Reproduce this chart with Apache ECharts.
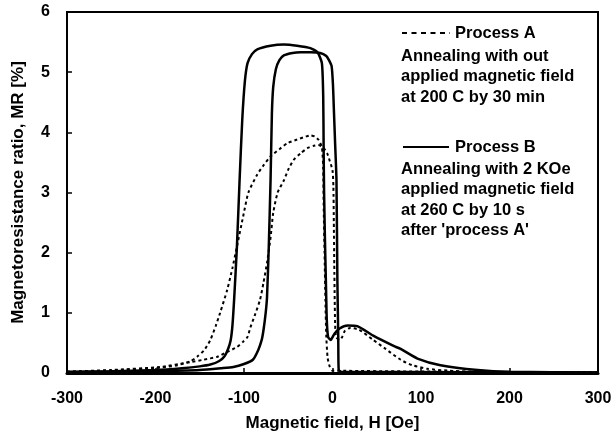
<!DOCTYPE html>
<html>
<head>
<meta charset="utf-8">
<script src="https://cdn.jsdelivr.net/npm/echarts@6/dist/echarts.min.js"></script>
<style>html,body{margin:0;padding:0;background:#fff}#c{width:616px;height:441px}</style>
</head>
<body>
<div id="c"></div>
<script>
// X ticks and Y ticks
const xTicks = [-300, -200, -100, 0, 100, 200, 300];
const yTicks = [0, 1, 2, 3, 4, 5, 6];

// Process A (dotted) - trace 1 (peak ~3.95)
const processA1 = [[-300,0.02],[-250,0.04],[-200,0.08],[-175,0.13],[-160,0.2],[-153,0.27],[-145,0.38],[-138,0.55],[-132,0.78],[-127,1.0],[-119,1.38],[-113,1.75],[-108,2.1],[-101,2.6],[-95,3.0],[-85,3.3],[-78,3.45],[-70,3.6],[-60,3.72],[-51,3.82],[-40,3.88],[-30,3.93],[-25,3.95],[-20,3.93],[-16,3.88],[-12,3.75],[-10.5,3.4],[-10,2.8],[-9,2.0],[-8,1.2],[-7,0.6],[-5.5,0.25],[-3,0.1],[0,0.04],[300,0.01]];
// Process A (dotted) - trace 2 (peak ~3.79)
const processA2 = [[-300,0.02],[-250,0.05],[-195,0.1],[-161,0.18],[-146,0.22],[-130,0.27],[-119,0.35],[-108,0.43],[-101,0.52],[-96,0.6],[-93,0.75],[-88,0.95],[-82,1.21],[-78,1.5],[-74,1.83],[-70,2.25],[-67,2.66],[-62,3.0],[-55,3.2],[-50,3.38],[-44,3.54],[-36,3.65],[-28,3.74],[-20,3.78],[-16,3.79],[-10,3.74],[-6,3.65],[-3,3.52],[0,3.37],[1,3.1],[1.5,2.5],[2,1.8],[2.5,1.2],[3,0.8],[4,0.6],[8,0.55],[11,0.6],[14,0.7],[20,0.75],[30,0.72],[46,0.55],[60,0.4],[77,0.22],[90,0.13],[107,0.07],[130,0.04],[160,0.02],[300,0.01]];
// Process B (solid) - trace 1 (peak ~5.45)
const processB1 = [[-300,0.02],[-250,0.03],[-200,0.05],[-170,0.08],[-150,0.11],[-138,0.14],[-128,0.2],[-122,0.28],[-118,0.4],[-115,0.55],[-113,0.8],[-111,1.26],[-108,2.1],[-105,3.2],[-102,4.2],[-99,4.85],[-96,5.15],[-91,5.3],[-85,5.38],[-70,5.44],[-55,5.46],[-40,5.44],[-25,5.4],[-17,5.33],[-12,5.15],[-10.5,4.6],[-10,3.7],[-9.5,3.0],[-8.5,2.2],[-7.5,1.55],[-6.5,0.9],[-5,0.6],[-2,0.55],[2,0.65],[8,0.74],[17,0.79],[28,0.78],[46,0.62],[69,0.45],[77,0.4],[96,0.24],[122,0.13],[164,0.05],[200,0.02],[300,0.01]];
// Process B (solid) - trace 2 (peak ~5.3)
const processB2 = [[-300,0.01],[-250,0.02],[-200,0.03],[-150,0.05],[-125,0.08],[-112,0.1],[-100,0.15],[-90,0.22],[-84,0.38],[-80,0.55],[-78,0.71],[-75.5,1.0],[-74,1.26],[-72,2.1],[-70,3.2],[-68.5,4.3],[-67,4.75],[-64,5.05],[-60,5.2],[-55,5.28],[-45,5.32],[-36,5.33],[-25,5.33],[-14,5.32],[-7,5.27],[-4,5.2],[-1,5.1],[0.5,4.8],[1.5,4.4],[3,3.8],[4.5,3.2],[5.5,1.55],[6.5,0.6],[7,0.05],[10,0.02],[300,0.01]];

const legendTextA = ['Annealing with out', 'applied magnetic field', 'at 200 C by 30 min'];
const legendTextB = ['Annealing with 2 KOe', 'applied magnetic field', 'at 260 C by 10 s', "after 'process A'"];

const FONT = '"Liberation Sans", Arial, sans-serif';
const LFONT = 'bold 16.5px ' + FONT;
const chart = echarts.init(document.getElementById('c'), null, {renderer: 'canvas'});

const graphics = [];
graphics.push({type: 'line', shape: {x1: 402, y1: 33, x2: 450, y2: 33}, style: {stroke: '#000', lineWidth: 2, lineDash: [5, 4.5]}});
graphics.push({type: 'text', x: 455, y: 33, style: {text: 'Process A', fill: '#000', font: LFONT, textVerticalAlign: 'middle'}});
legendTextA.forEach((s, i) => graphics.push({type: 'text', x: 401, y: 56 + i * 20.5, style: {text: s, fill: '#000', font: LFONT, textVerticalAlign: 'middle'}}));
graphics.push({type: 'line', shape: {x1: 403, y1: 147, x2: 449, y2: 147}, style: {stroke: '#000', lineWidth: 2}});
graphics.push({type: 'text', x: 455, y: 147, style: {text: 'Process B', fill: '#000', font: LFONT, textVerticalAlign: 'middle'}});
legendTextB.forEach((s, i) => graphics.push({type: 'text', x: 401, y: 169 + i * 20.5, style: {text: s, fill: '#000', font: LFONT, textVerticalAlign: 'middle'}}));

const lineSeries = (name, data, dotted) => ({
  name, type: 'line', data, showSymbol: false, smooth: 0.2, animation: false,
  lineStyle: {color: '#000', width: dotted ? 2 : 2.5, type: dotted ? [3, 3] : 'solid'}
});

chart.setOption({
  animation: false,
  backgroundColor: '#fff',
  grid: {left: 67, right: 18, top: 12, bottom: 68, show: true, borderColor: '#000', borderWidth: 2},
  xAxis: {
    type: 'value', min: xTicks[0], max: xTicks[xTicks.length - 1], interval: 100,
    name: 'Magnetic field, H [Oe]', nameLocation: 'middle', nameGap: 42,
    nameTextStyle: {fontFamily: FONT, fontWeight: 'bold', fontSize: 17, color: '#000'},
    axisLine: {onZero: false, lineStyle: {color: '#000', width: 3}},
    axisTick: {inside: true, length: 5, lineStyle: {color: '#000', width: 1.5}},
    axisLabel: {fontFamily: FONT, fontWeight: 'bold', fontSize: 16, color: '#000', margin: 18},
    splitLine: {show: false}
  },
  yAxis: {
    type: 'value', min: yTicks[0], max: yTicks[yTicks.length - 1], interval: 1,
    name: 'Magnetoresistance ratio, MR [%]', nameLocation: 'middle', nameGap: 40, nameRotate: 90,
    nameTextStyle: {fontFamily: FONT, fontWeight: 'bold', fontSize: 17, color: '#000'},
    axisLine: {onZero: false, lineStyle: {color: '#000', width: 2}},
    axisTick: {inside: true, length: 5, lineStyle: {color: '#000', width: 1.5}},
    axisLabel: {fontFamily: FONT, fontWeight: 'bold', fontSize: 16, color: '#000', margin: 17},
    splitLine: {show: false}
  },
  graphic: graphics,
  series: [
    lineSeries('Process A (1)', processA1, true),
    lineSeries('Process A (2)', processA2, true),
    lineSeries('Process B (1)', processB1, false),
    lineSeries('Process B (2)', processB2, false)
  ]
});
</script>
</body>
</html>
